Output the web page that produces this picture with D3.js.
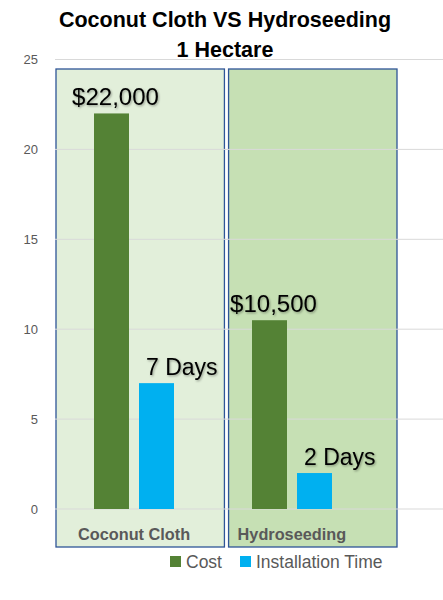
<!DOCTYPE html>
<html>
<head>
<meta charset="utf-8">
<script src="https://cdn.jsdelivr.net/npm/d3@7"></script>
<style>
  html, body { margin: 0; padding: 0; background: #ffffff; }
  svg { display: block; font-family: "Liberation Sans", Arial, sans-serif; }
</style>
</head>
<body>
<svg id="chart" width="443" height="600"></svg>
<script>
// ---- data ----
const categories = ["Coconut Cloth", "Hydroseeding"];
const seriesNames = ["Cost", "Installation Time"];
const costValues = [22, 10.5];
const timeValues = [7, 2];
const costLabels = ["$22,000", "$10,500"];
const timeLabels = ["7 Days", "2 Days"];
const yTicks = [0, 5, 10, 15, 20, 25];
const titleLines = ["Coconut Cloth VS Hydroseeding", "1 Hectare"];
const panelFills = ["#E2EFDA", "#C6E0B4"];
const seriesColors = ["#548235", "#00B0F0"];

const svg = d3.select("#chart");
const W = 443, H = 600;

const y = d3.scaleLinear().domain([0, 25]).range([509, 59.5]);
const x0 = d3.scaleBand().domain(categories).range([55, 371]).padding(0);
const x1 = d3.scaleBand().domain(seriesNames).range([39, 119]).paddingInner(0.2222).paddingOuter(0);
const panelX = d3.scaleBand().domain(categories).range([56, 397]).paddingInner(0.024);

// shadow filter for value labels
const defs = svg.append("defs");
const f = defs.append("filter").attr("id", "shadow").attr("x", "-10%").attr("y", "-20%").attr("width", "130%").attr("height", "150%");
f.append("feDropShadow").attr("dx", 1).attr("dy", 1.2).attr("stdDeviation", 0.9)
  .attr("flood-color", "#000").attr("flood-opacity", 0.35);

// panels
svg.append("g").selectAll("rect").data(categories).join("rect")
  .attr("x", d => panelX(d))
  .attr("y", 69)
  .attr("width", panelX.bandwidth())
  .attr("height", 547 - 69)
  .attr("fill", (d, i) => panelFills[i])
  .attr("stroke", "#2F5597")
  .attr("stroke-width", 1.3);

// gridlines
svg.append("g").selectAll("line").data(yTicks).join("line")
  .attr("x1", 55).attr("x2", W)
  .attr("y1", d => y(d)).attr("y2", d => y(d))
  .attr("stroke", "#D9D9D9").attr("stroke-width", 1);

// y tick labels
svg.append("g").selectAll("text").data(yTicks).join("text")
  .attr("x", 38).attr("y", d => y(d))
  .attr("dy", "0.35em")
  .attr("text-anchor", "end")
  .attr("font-size", 13)
  .attr("fill", "#595959")
  .text(d => d);

// bars
const rows = categories.map((c, i) => ({ cat: c, vals: [costValues[i], timeValues[i]], labels: [costLabels[i], timeLabels[i]] }));
const groups = svg.append("g").selectAll("g").data(rows).join("g")
  .attr("transform", d => `translate(${x0(d.cat)},0)`);

groups.selectAll("rect").data(d => d.vals.map((v, j) => ({ s: seriesNames[j], v, j }))).join("rect")
  .attr("x", d => x1(d.s))
  .attr("y", d => y(d.v))
  .attr("width", x1.bandwidth())
  .attr("height", d => y(0) - y(d.v))
  .attr("fill", d => seriesColors[d.j]);

// value labels
groups.selectAll("text").data(d => d.vals.map((v, j) => ({ s: seriesNames[j], v, j, label: d.labels[j] }))).join("text")
  .attr("x", d => d.j === 0 ? x1(d.s) + x1.bandwidth() / 2 + 4 : x1(d.s) + 7)
  .attr("y", d => y(d.v) - 8)
  .attr("text-anchor", d => d.j === 0 ? "middle" : "start")
  .attr("font-size", d => d.j === 0 ? 24 : 23)
  .attr("fill", "#000")
  .attr("filter", "url(#shadow)")
  .text(d => d.label);

// category labels
svg.append("g").selectAll("text").data(categories).join("text")
  .attr("x", d => panelX(d) + (d === categories[0] ? 22 : 9))
  .attr("y", 540)
  .attr("font-size", 16.3)
  .attr("font-weight", "bold")
  .attr("fill", "#595959")
  .text(d => d);

// title
svg.append("g").selectAll("text").data(titleLines).join("text")
  .attr("x", 225)
  .attr("y", (d, i) => 27 + i * 30)
  .attr("text-anchor", "middle")
  .attr("font-size", 21.5)
  .attr("font-weight", "bold")
  .attr("fill", "#000")
  .text(d => d);

// legend
const legendX = [170, 240];
const lg = svg.append("g").selectAll("g").data(seriesNames).join("g")
  .attr("transform", (d, i) => `translate(${legendX[i]},556)`);
lg.append("rect").attr("width", 11).attr("height", 11).attr("fill", (d, i) => seriesColors[i]);
lg.append("text").attr("x", 16).attr("y", 11.5).attr("font-size", 17.5).attr("fill", "#595959").text(d => d);
</script>
</body>
</html>
